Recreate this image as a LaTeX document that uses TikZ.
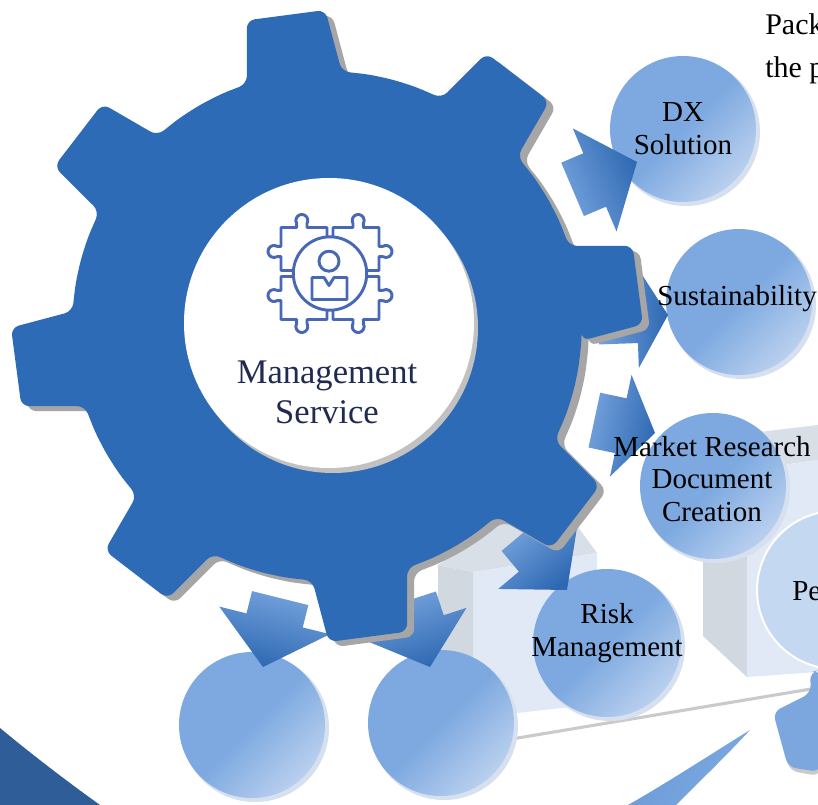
\documentclass[tikz,border=0pt]{standalone}
\usepackage{fontspec}
\setmainfont{Liberation Serif}
\usetikzlibrary{calc}

\definecolor{gearblue}{HTML}{2E6BB6}
\definecolor{gearshade}{HTML}{A6A6A6}
\definecolor{iconblue}{HTML}{4868B5}
\definecolor{navytext}{HTML}{1F2B4F}
\definecolor{arrowdark}{HTML}{2D68B2}
\definecolor{arrowlight}{HTML}{76A3DD}
\definecolor{bubble}{HTML}{7DA9E0}
\definecolor{bubblelight}{HTML}{B9D0EF}
\definecolor{bubblerim}{HTML}{D6E0EE}
\definecolor{palebubble}{HTML}{C4D8F1}
\definecolor{boxfront}{HTML}{E0E9F5}
\definecolor{boxside}{HTML}{D1D8E0}
\definecolor{boxtop}{HTML}{D8DFE7}
\definecolor{slabedge}{HTML}{CACACA}
\definecolor{cornerblue}{HTML}{2E5D98}
\definecolor{softblue}{HTML}{7BA7DE}

\tikzset{
  bubbletext/.style={align=center, inner sep=0pt, text=black,
    font=\fontsize{21.75}{24.5}\selectfont},
  geartext/.style={align=center, inner sep=0pt, text=navytext,
    font=\fontsize{25.9}{30}\selectfont},
  pagetext/.style={inner sep=0pt, anchor=base west, text=black,
    font=\fontsize{22.5}{24}\selectfont},
  iconline/.style={draw=iconblue, line width=2.2pt, line join=round, line cap=round},
}

% shaded bubble with a pale rim towards the lower right
\newcommand{\bubble}[4]{% name, x, y, radius
  \fill[bubblerim] (#2+3,#3-3) circle (#4+1);
  \shade[top color=bubble, bottom color=bubblelight, middle color=bubble, shading angle=45]
    (#2,#3) circle (#4);
  \coordinate (#1) at (#2,#3);
}

% block arrow: tip x, tip y, direction, head length, head half width, shaft half width, total length
\newcommand{\blockarrow}[7]{%
  \pgfmathsetmacro{\shadeang}{#3-90}
  \shade[shift={(#1,#2)}, rotate=#3, top color=arrowdark, bottom color=arrowlight,
         shading angle=\shadeang]
    (0,0) -- (-#4,#5) -- (-#4,#6) -- (-#7,#6) -- (-#7,-#6) -- (-#4,-#6) -- (-#4,-#5) -- cycle;
}

% outline of the eight-tooth gear around the origin
\newcommand{\gearpath}{(-3.3:255)
  \foreach \c in {7.5,52.5,...,322.5} {
    -- (\c-7.2:316) -- (\c+7.2:316) -- (\c+10.8:255)
    -- (\c+17:255) -- (\c+22.5:255) -- (\c+28:255) -- (\c+34.2:255)
  } -- cycle}

% one quarter of the puzzle ring
\newcommand{\puzzlepiece}{%
  \draw[iconline] (-3,36.9) -- (-3,46) -- (-23,46) -- (-23,50)
    arc[start angle=-30, end angle=210, radius=6] -- (-33.4,46) -- (-49,46)
    -- (-49,27.2) -- (-53,27.2) arc[start angle=60, end angle=300, radius=6]
    -- (-53,16.8) -- (-49,16.8) -- (-49,3) -- (-36.9,3);
}

\begin{document}
\begin{tikzpicture}[x=0.75pt,y=0.75pt]
\useasboundingbox (0,0) rectangle (818,-805);
\fill[white] (0,0) rectangle (818,-805);

% dark sweep in the lower left corner
\fill[cornerblue] (0,-728) .. controls (35,-757) and (68,-782) .. (100,-805) -- (0,-805) -- cycle;

% pale blocks standing on a slab
\fill[boxside] (438,-565) -- (473,-572) -- (473,-718) -- (438,-706) -- cycle;
\fill[boxtop] (438,-565) -- (505,-521) -- (578,-527) -- (597,-553) -- (473,-572) -- cycle;
\fill[boxfront] (473,-572) -- (597,-553) -- (597,-704) -- (473,-718) -- cycle;
\fill[boxside] (703,-458) -- (747,-470) -- (747,-677) -- (703,-636) -- cycle;
\fill[boxtop] (703,-458) -- (760,-432) -- (818,-425) -- (818,-460) -- (747,-470) -- cycle;
\fill[boxfront] (747,-470) -- (818,-460) -- (818,-672) -- (747,-677) -- cycle;
\draw[slabedge, line width=2.3pt] (440,-751) -- (811,-689);

% swoosh and the rounded shape at the lower right
\shade[left color=arrowlight!85!arrowdark, right color=bubble, shading angle=60]
  (750,-730) .. controls (705,-758) and (665,-784) .. (628,-805) -- (676,-805)
  .. controls (700,-781) and (726,-756) .. (750,-730) -- cycle;
\fill[slabedge, rounded corners=6pt] (812,-676) -- (820,-674) -- (820,-776) -- (790,-771)
  -- (775,-716) -- (813,-697) -- cycle;
\fill[softblue, rounded corners=6pt] (810,-672) -- (820,-670) -- (820,-772) -- (788,-767)
  -- (773,-712) -- (811,-693) -- cycle;

% bubbles
\bubble{dxc}{683}{-129}{73}
\bubble{susc}{739}{-302}{73}
\bubble{mrc}{713}{-486}{73}
\bubble{riskc}{607}{-643}{74}
\bubble{lowa}{252}{-725}{73}
\bubble{lowb}{441}{-723}{73}
\fill[palebubble, draw=white, line width=1.5pt] (836,-590) circle (79);
\coordinate (pec) at (836,-590);

% arrows leaving the gear
\blockarrow{637}{-162}{23}{46}{56}{29}{70}
\blockarrow{668}{-315}{2}{31}{52}{27}{70}
\blockarrow{655}{-433}{-12}{35}{52}{28}{62}
\blockarrow{567}{-590}{-50}{45}{52}{25}{72}
\blockarrow{263}{-667}{-104}{48}{57}{29}{71}
\blockarrow{430}{-667}{-72}{45}{53}{29}{70}

% gear with its shadow
\begin{scope}[shift={(327,-326)}]
  \fill[gearshade, rounded corners=6pt, shift={(7,-5)}] \gearpath;
  \fill[gearblue, rounded corners=6pt] \gearpath;
\end{scope}
\fill[gearshade!70] (333,-328) circle (145);
\fill[white] (329,-323) circle (145);

% puzzle and person icon
\begin{scope}[shift={(330,-273.5)}]
  \draw[iconline] (0,0) circle (36.7);
  \puzzlepiece
  \begin{scope}[xscale=-1]\puzzlepiece\end{scope}
  \begin{scope}[yscale=-1]\puzzlepiece\end{scope}
  \begin{scope}[xscale=-1,yscale=-1]\puzzlepiece\end{scope}
  \draw[iconline] (-1,12.3) circle (10);
  \draw[iconline] (-18,-26) -- (-18,-4) -- (-6,-4) -- (-1,-12) -- (4,-4) -- (17,-4) -- (17,-26) -- cycle;
\end{scope}

% labels
\node[geartext] (core) at (327,-392) {Management\\Service};
\node[bubbletext] (dx) at (dxc) [yshift=0.5pt] {DX\\Solution};
\node[bubbletext] (sus) at (737,-299) {Sustainability};
\node[bubbletext] (mr) at (712,-479) {Market Research\\Document\\Creation};
\node[bubbletext] (risk) at (607,-633) {Risk\\Management};
\node[bubbletext, anchor=base west] (pe) at (792,-600) {Pe};
\node[pagetext] (pa) at (765,-35) {Pack};
\node[pagetext] (pb) at (765,-78) {the p};
\end{tikzpicture}
\end{document}
